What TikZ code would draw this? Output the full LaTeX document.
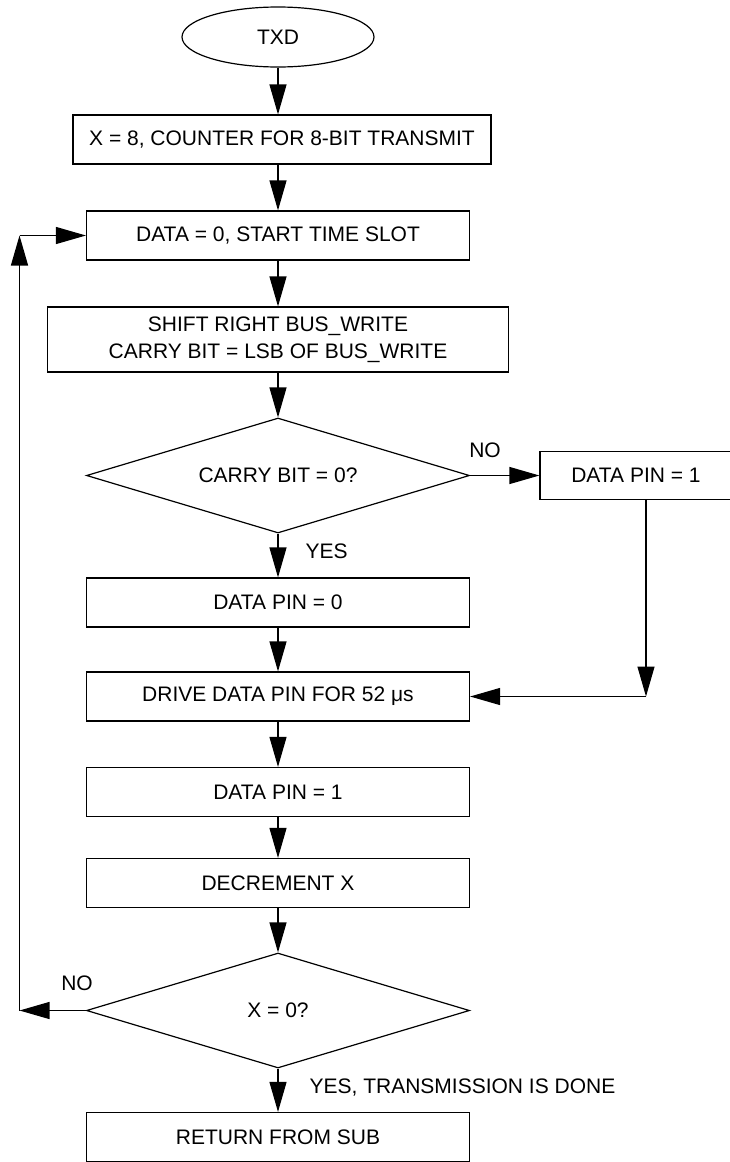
\documentclass[tikz,border=0pt]{standalone}
\usepackage{fontspec}
\setmainfont{Liberation Sans}
\usetikzlibrary{arrows.meta,shapes.geometric}
\begin{document}
\begin{tikzpicture}[x=1pt,y=-1pt,
  line width=1.2pt,
  every node/.style={font=\fontsize{21}{27}\selectfont},
  box/.style={draw, fill=white, rectangle, inner sep=0pt, minimum width=383pt, minimum height=49pt, align=center},
  decision/.style={draw, diamond, aspect=3.33, inner sep=0pt, minimum width=383pt, minimum height=115pt},
  lbl/.style={inner sep=0pt},
  arr/.style={-{Triangle[length=30pt,width=17pt]}},
]
\useasboundingbox (0,0) rectangle (730,1162);
\clip (0,0) rectangle (730,1162);
\node[draw, ellipse, minimum width=192pt, minimum height=60pt, inner sep=0pt] (start) at (278,37) {TXD};
\node[box, minimum width=418pt] (b1) at (282,139.5) {X = 8, COUNTER FOR 8-BIT TRANSMIT};
\node[box] (b2) at (278,235.5) {DATA = 0, START TIME SLOT};
\node[box, minimum width=461pt, minimum height=65pt] (b3) at (278,339.5) {SHIFT RIGHT BUS\_WRITE\\CARRY BIT = LSB OF BUS\_WRITE};
\node[decision] (d1) at (278,475.5) {CARRY BIT = 0?};
\node[box, minimum width=192pt, minimum height=48pt] (rb) at (636,475.5) {DATA PIN = 1};
\node[box] (p0) at (278,602.5) {DATA PIN = 0};
\node[box] (drv) at (278,696.5) {DRIVE DATA PIN FOR 52 μs};
\node[box] (p1) at (278,792) {DATA PIN = 1};
\node[box] (dx) at (278,883) {DECREMENT X};
\node[decision] (d2) at (278,1010.5) {X = 0?};
\node[box] (ret) at (278,1137) {RETURN FROM SUB};
\node[lbl] (no1) at (485,450) {NO};
\node[lbl, anchor=west] (yes1) at (305,551) {YES};
\node[lbl] (no2) at (77,983) {NO};
\node[lbl, anchor=west] (yes2) at (309,1087) {YES, TRANSMISSION IS DONE};
\coordinate (c1) at (646,696.5);
\coordinate (c2) at (19.5,1010.5);
\coordinate (c3) at (19.5,235.5);
\draw[arr] (start.south) -- (start.south |- b1.north);
\draw[arr] (b1.south -| b2.north) -- (b2.north);
\draw[arr] (b2.south) -- (b3.north);
\draw[arr] (b3.south) -- (d1.north);
\draw[arr] (d1.south) -- (p0.north);
\draw[arr] (p0.south) -- (drv.north);
\draw[arr] (drv.south) -- (p1.north);
\draw[arr] (p1.south) -- (dx.north);
\draw[arr] (dx.south) -- (d2.north);
\draw[arr] (d2.south) -- (ret.north);
\draw[arr] (d1.east) -- (rb.west);
\draw[arr] (rb.south -| c1) -- (c1);
\draw[arr] (c1) -- (drv.east);
\draw[arr] (d2.west) -- (c2);
\draw[arr] (c2) -- (c3);
\draw[arr] (c3) -- (b2.west);
\end{tikzpicture}
\end{document}
